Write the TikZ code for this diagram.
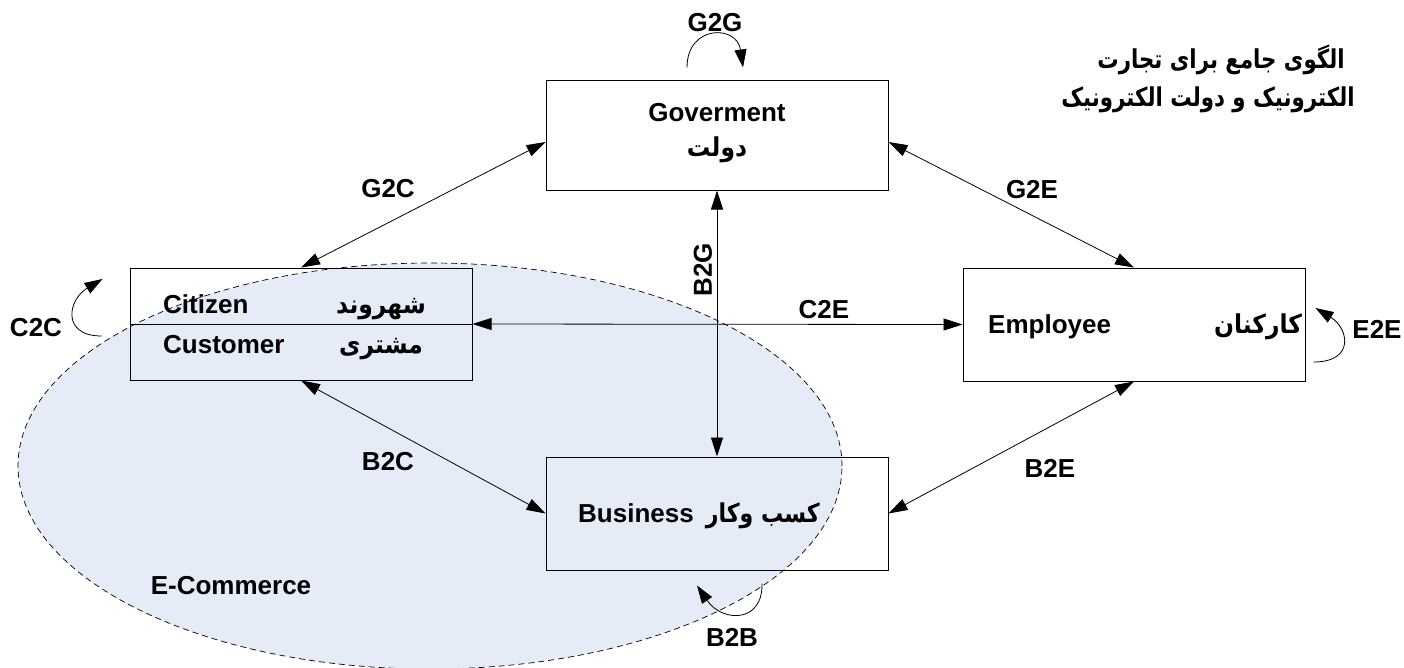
\documentclass[tikz,border=0pt]{standalone}
\usepackage{fontspec}
\setmainfont{Liberation Sans}
\newfontfamily\fa[Script=Arabic]{DejaVu Sans}
\TeXXeTstate=1
\usetikzlibrary{arrows.meta,calc}
\definecolor{ecfill}{RGB}{229,235,247}
% right-to-left Persian text, squeezed slightly in width
\newcommand{\fatxt}[2][0.9]{\scalebox{#1}[1]{\beginR #2\endR}}

\begin{document}
\begin{tikzpicture}[x=1pt,y=-1pt,
  font=\fontsize{26}{30}\selectfont\bfseries,
  box/.style={draw, line width=1pt, minimum width=342pt, inner sep=0pt},
  link/.style={{Triangle[length=19pt,width=12pt]}-{Triangle[length=19pt,width=12pt]}, line width=0.8pt},
  selfarrow/.style={-{Triangle[length=18pt,width=12pt]}, line width=0.8pt},
  lbl/.style={inner sep=0pt},
  fatext/.style={inner sep=0pt, font=\fa\bfseries\fontsize{26}{30}\selectfont}]

\useasboundingbox (0,0) rectangle (1404,667);
\fill[white] (0,0) rectangle (1404,667);

% e-commerce region
\draw[fill=ecfill, line width=0.7pt, dash pattern=on 6pt off 4pt]
  (430,466) ellipse [x radius=412pt, y radius=203pt];

% actors
\node[box, minimum height=110pt] (gov) at (717,135) {};
\node[box, minimum height=112pt] (cit) at (301,324) {};
\node[box, minimum height=113pt] (emp) at (1134,324.5) {};
\node[box, minimum height=113pt] (biz) at (717,513.5) {};
\draw[line width=1pt] (cit.west) -- (cit.east);

% relations between actors
\draw[link] ($(gov.west)+(0,7)$) -- (cit.north);
\draw[link] ($(gov.east)+(0,7)$) -- (emp.north);
\draw[link] (gov.south) -- (biz.north);
\draw[link] (cit.east) -- (emp.west);
\draw[link] (cit.south) -- (biz.west);
\draw[link] (biz.east) -- (emp.south);

% relations within one actor
\coordinate (g2gA) at ($(gov.north)+(-30,-12)$);
\coordinate (g2gB) at ($(gov.north)+(26,-12)$);
\draw[selfarrow] (g2gA) .. controls +(0,-43) and +(-6,-43) .. (g2gB);
\coordinate (c2cA) at ($(cit.west)+(-28,12)$);
\coordinate (c2cB) at ($(cit.west)+(-27,-45)$);
\draw[selfarrow] (c2cA) .. controls +(-40,0) and +(-35,21) .. (c2cB);
\coordinate (e2eA) at ($(emp.east)+(8,37.5)$);
\coordinate (e2eB) at ($(emp.east)+(10,-16.5)$);
\draw[selfarrow] (e2eA) .. controls +(42,0) and +(33,20) .. (e2eB);
\coordinate (b2bA) at ($(biz.south)+(45,13)$);
\coordinate (b2bB) at ($(biz.south)+(-20,15)$);
\draw[selfarrow] (b2bA) .. controls +(1,40) and +(25,37) .. (b2bB);

% box texts
\node[lbl] (govEn) at (717,113) {Goverment};
\node[fatext] (govFa) at (717,150) {\fatxt{دولت}};
\node[lbl, anchor=base west] (citEn) at (163,313) {Citizen};
\node[fatext, anchor=base] (citFa) at (381,313) {\fatxt{شهروند}};
\node[lbl, anchor=base west] (cusEn) at (163,353) {Customer};
\node[fatext, anchor=base] (cusFa) at (381,353) {\fatxt{مشتری}};
\node[lbl, anchor=base west] (empEn) at (988,333) {Employee};
\node[fatext, anchor=base] (empFa) at (1258,333) {\fatxt{کارکنان}};
\node[lbl, anchor=base west] (bizEn) at (578,522) {Business};
\node[fatext, anchor=base east] (bizFa) at (820,522) {\fatxt[0.85]{کسب وکار}};

% relation labels
\node[lbl] (tG2G) at (715,23) {G2G};
\node[lbl] (tG2C) at (388,189) {G2C};
\node[lbl] (tG2E) at (1032,190) {G2E};
\node[lbl, rotate=90] (tB2G) at (703,270) {B2G};
\node[lbl] (tC2E) at (824,310) {C2E};
\node[lbl] (tC2C) at (36,328) {C2C};
\node[lbl] (tE2E) at (1377,329) {E2E};
\node[lbl] (tB2C) at (388,462) {B2C};
\node[lbl] (tB2E) at (1050,468) {B2E};
\node[lbl] (tB2B) at (732,637) {B2B};
\node[lbl] (tEC) at (231,586) {E-Commerce};

% title
\node[fatext] (title1) at (1221,60) {\fatxt[0.82]{الگوی جامع برای تجارت}};
\node[fatext] (title2) at (1208,100) {\fatxt[0.82]{الکترونیک و دولت الکترونیک}};
\end{tikzpicture}
\end{document}
